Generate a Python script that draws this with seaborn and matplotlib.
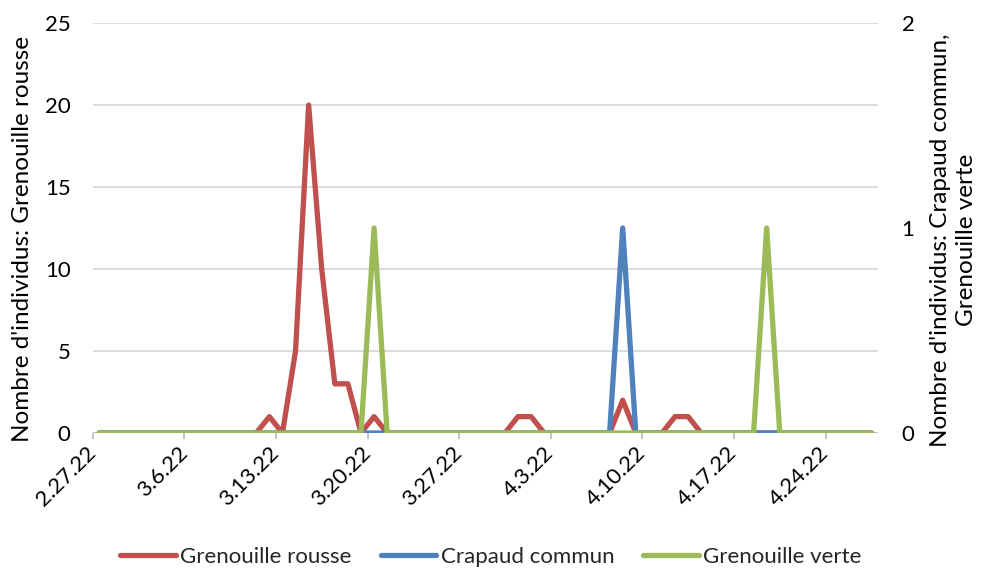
import matplotlib
matplotlib.use("Agg")
import matplotlib.pyplot as plt
import matplotlib.transforms as mtransforms
from matplotlib.lines import Line2D
import pandas as pd
import seaborn as sns

# Daily counts, 27 Feb 2022 to 27 Apr 2022
start_date = "2022-02-27"
n_days = 60
grenouille_rousse = [0, 0, 0, 0, 0, 0, 0, 0, 0, 0,
                     0, 0, 0, 1, 0, 5, 20, 10, 3, 3,
                     0, 1, 0, 0, 0, 0, 0, 0, 0, 0,
                     0, 0, 1, 1, 0, 0, 0, 0, 0, 0,
                     2, 0, 0, 0, 1, 1, 0, 0, 0, 0,
                     0, 0, 0, 0, 0, 0, 0, 0, 0, 0]
crapaud_commun = [0] * 40 + [1] + [0] * 19
grenouille_verte = [0] * 21 + [1] + [0] * 29 + [1] + [0] * 8

tick_dates = ["2022-02-27", "2022-03-06", "2022-03-13", "2022-03-20",
              "2022-03-27", "2022-04-03", "2022-04-10", "2022-04-17", "2022-04-24"]
tick_labels = ["2.27.22", "3.6.22", "3.13.22", "3.20.22",
               "3.27.22", "4.3.22", "4.10.22", "4.17.22", "4.24.22"]

left_ticks = [0, 5, 10, 15, 20, 25]
right_ticks = [0, 1, 2]

series_names = ["Grenouille rousse", "Crapaud commun", "Grenouille verte"]
colors = {"Grenouille rousse": "#C0504D",
          "Crapaud commun": "#4F81BD",
          "Grenouille verte": "#9BBB59"}

days = pd.date_range(start_date, periods=n_days, freq="D")
# each value sits in the middle of its day
centers = days + pd.Timedelta(hours=12)
df = pd.DataFrame({"date": centers,
                   "Grenouille rousse": grenouille_rousse,
                   "Crapaud commun": crapaud_commun,
                   "Grenouille verte": grenouille_verte})

sns.set_theme(style="white")
plt.rcParams["font.family"] = ["Lato", "DejaVu Sans"]
FS = 16
FS_TITLE = 17.5

fig = plt.figure(figsize=(9.82, 5.71), dpi=100)
ax = fig.add_axes([92.7 / 982, 1 - 433 / 571, (877.9 - 92.7) / 982, (433 - 23) / 571])
ax2 = ax.twinx()

lw = 3.8
sns.lineplot(data=df, x="date", y="Grenouille rousse", ax=ax,
             color=colors["Grenouille rousse"], linewidth=lw,
             solid_joinstyle="round", solid_capstyle="round", zorder=3)
sns.lineplot(data=df, x="date", y="Crapaud commun", ax=ax2,
             color=colors["Crapaud commun"], linewidth=lw,
             solid_joinstyle="round", solid_capstyle="round", zorder=3)
sns.lineplot(data=df, x="date", y="Grenouille verte", ax=ax2,
             color=colors["Grenouille verte"], linewidth=lw,
             solid_joinstyle="round", solid_capstyle="round", zorder=4)

x0 = pd.Timestamp(start_date)
x1 = x0 + pd.Timedelta(days=n_days)
ax.set_xlim(x0, x1)
ax.set_ylim(0, 25)
ax2.set_ylim(0, 2)

grid_c = "#D9D9D9"
ax.set_yticks(left_ticks)
ax2.set_yticks(right_ticks)
ax.yaxis.grid(True, color=grid_c, linewidth=1.3)
ax.xaxis.grid(False)
ax2.grid(False)
ax.set_axisbelow(True)

for a in (ax, ax2):
    for s in ("left", "right", "top", "bottom"):
        a.spines[s].set_visible(False)

ax.axhline(0, color="#BFBFBF", linewidth=1.3, zorder=1)

ax.set_xticks(pd.to_datetime(tick_dates))
ax.set_xticklabels(tick_labels, rotation=45, ha="right", va="center",
                   rotation_mode="anchor", fontsize=FS)
offset = mtransforms.ScaledTranslation(15 / 100, 0, fig.dpi_scale_trans)
for lbl in ax.get_xticklabels():
    lbl.set_transform(lbl.get_transform() + offset)
ax.tick_params(axis="x", which="major", length=4, width=1.3, color="#BFBFBF",
               direction="out", pad=8, bottom=True)
ax.tick_params(axis="y", length=0, pad=16, labelsize=FS)
ax2.tick_params(axis="y", length=0, pad=17, labelsize=FS)
ax.set_yticklabels([str(v) for v in left_ticks])
ax2.set_yticklabels([str(v) for v in right_ticks])
for lbl in ax.get_yticklabels() + ax2.get_yticklabels() + ax.get_xticklabels():
    lbl.set_color("black")

ax.set_xlabel("")
ax.set_ylabel("Nombre d'individus: Grenouille rousse", fontsize=FS_TITLE,
              color="black", ha="center", va="center")
ax.yaxis.set_label_coords(-70 / 785.2, 0.474)
ax2.set_ylabel("Nombre d'individus: Crapaud commun,\nGrenouille verte",
               fontsize=FS_TITLE, color="black", rotation=90, ha="center",
               va="center", multialignment="center", linespacing=1.3)
ax2.yaxis.set_label_coords(1 + 76 / 785.2, 0.47)

handles = [Line2D([0], [0], color=colors[n], linewidth=lw, solid_capstyle="round")
           for n in series_names]
fig.legend(handles, series_names, loc="center", bbox_to_anchor=(0.5, 1 - 557 / 571),
           ncol=3, frameon=False, fontsize=FS, handlelength=2.5,
           handletextpad=0.2, columnspacing=1.3)

fig.savefig("out.png", dpi=100)
